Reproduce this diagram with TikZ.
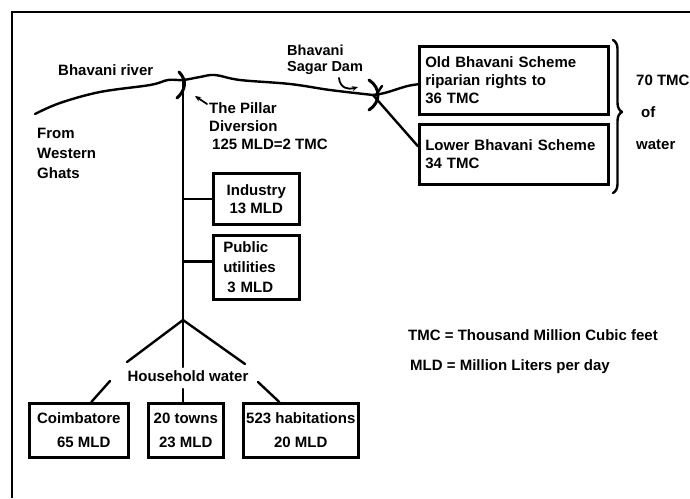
\documentclass[tikz,border=0pt]{standalone}
\usepackage{fontspec}
\setmainfont{Liberation Sans}
\usetikzlibrary{decorations.pathreplacing,arrows.meta}
\begin{document}
\begin{tikzpicture}[x=1pt,y=-1pt,
  every node/.style={font=\fontsize{15}{18}\selectfont\bfseries, inner sep=0pt},
  line/.style={line width=2.4pt, line cap=round, line join=round},
  thin/.style={line width=1.8pt, line cap=round},
  box/.style={draw, line width=2.6pt, anchor=north west, inner ysep=2pt},
  lbl/.style={anchor=west, align=left},
]
\useasboundingbox (0,0) rectangle (690,498);
% frame
\coordinate (fbl) at (12,498);
\coordinate (ftl) at (12,12);
\coordinate (ftr) at (690,12);
\draw[line width=2.4pt] (fbl) -- (ftl) -- (ftr);

% boxes
\node[box, inner xsep=6pt, text width=177pt, minimum height=68pt, align=left] (old) at (418,45)
  {Old Bhavani Scheme\\riparian rights to\\36 TMC};
\node[box, inner xsep=6pt, text width=177pt, minimum height=60pt, align=left] (lower) at (418,123)
  {Lower Bhavani Scheme\\34 TMC};
\node[box, minimum width=86pt, minimum height=51pt, align=center] (ind) at (212,172)
  {Industry\\13 MLD};
\node[box, inner xsep=10pt, text width=66pt, minimum height=64pt, align=left] (pub) at (212,234)
  {Public\\[2pt]utilities\\[2pt]\hspace{4pt}3 MLD};
\node[box, minimum width=99pt, minimum height=54pt, align=center] (coim) at (28,402)
  {Coimbatore\\[6pt]\hspace{10pt}65 MLD};
\node[box, minimum width=75pt, minimum height=54pt, align=center] (towns) at (147,402)
  {20 towns\\[6pt]23 MLD};
\node[box, minimum width=115pt, minimum height=54pt, align=center] (hab) at (242,402)
  {523 habitations\\[6pt]20 MLD};

% texts
\node[lbl] (riv) at (58,70) {Bhavani river};
\node[lbl] (from) at (37,153) {From\\[2pt]Western\\[2pt]Ghats};
\node[lbl] (pil) at (209,126) {The Pillar\\Diversion\\\hspace{3pt}125 MLD=2 TMC};
\node[lbl, font=\fontsize{14.5}{16}\selectfont\bfseries] (sagar) at (287,60) {Bhavani\\Sagar Dam};
\node[lbl] (tmc70) at (636,112) {70 TMC\\[14pt]\hspace{5pt}of\\[14pt]water};
\node[lbl] (leg1) at (408,335) {TMC = Thousand Million Cubic feet};
\node[lbl] (leg2) at (410,367) {MLD = Million Liters per day};
\node (hw) at (188,376) {Household water};

% river
\coordinate (rs) at (35,114);
\coordinate (pillar) at (183,80);
\coordinate (dam) at (373,95);
\draw[line] plot[smooth, tension=0.6] coordinates {(rs) (60,103) (100,92) (150,85) (168,80) (pillar) (200,77) (215,75) (240,80) (290,84) (330,90) (dam)};
% pillar mark
\draw[line width=3pt, line cap=round] (179,72) .. controls (187,80) and (186,90) .. (177,98);
% dam mark
\draw[line width=3pt, line cap=round] (369,80) .. controls (381,88) and (381,102) .. (369,110);
\draw[line width=2.4pt, line cap=round] (382,86) -- (376,95);

% dam to schemes
\draw[line] (dam) .. controls (392,93) and (400,86) .. ([yshift=-4pt]old.west);
\draw[line] (dam) -- ([yshift=8pt]lower.west);

% brace
\coordinate (brt) at (613,40);
\coordinate (brb) at (613,193);
\draw[line, decorate, decoration={brace, amplitude=9pt, aspect=0.47}] (brt) -- (brb);

% hooks
\draw[thin, -{Stealth[length=6pt,width=5pt]}] (339,78) .. controls (340,88) and (348,90) .. (358,87);
\draw[thin, -{Stealth[length=6pt,width=5pt]}] (207,104) -- (195,96);

% trunk
\coordinate (branch) at (183,320);
\draw[line] (pillar) -- (branch);
\draw[line] (ind.west -| pillar) -- (ind.west);
\draw[line] ([yshift=6pt]pub.west -| pillar) -- ([yshift=6pt]pub.west);

% household branches
\coordinate (b1) at (127,362);
\coordinate (b2) at (183,367);
\coordinate (b3) at (245,364);
\draw[line] (b1) -- (branch) -- (b3);
\draw[line] (branch) -- (b2);
\coordinate (c1) at (110,381);
\coordinate (c2) at (183,389);
\coordinate (c3) at (258,382);
\draw[line] (c1) -- ([xshift=12.5pt]coim.north);
\draw[line] (c2) -- (towns.north -| c2);
\draw[line] (c3) -- ([xshift=-21.5pt]hab.north);
\end{tikzpicture}
\end{document}
